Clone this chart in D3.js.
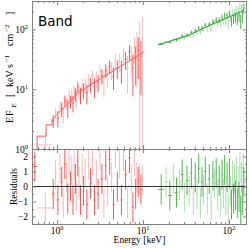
<!DOCTYPE html>
<html>
<head>
<meta charset="utf-8">
<script src="https://cdn.jsdelivr.net/npm/d3@7"></script>
<style>
  body { margin: 0; background: #fff; }
  svg { display: block; }
</style>
</head>
<body>
<div id="chart"></div>
<script>
// ---- data ----
// red spectrum: bin centre, half width, EF_E, error, residual
const redE = [0.55, 0.73, 0.90, 0.96, 1.02, 1.08, 1.13, 1.18, 1.23, 1.28, 1.33, 1.38, 1.43, 1.48, 1.53, 1.58, 1.63, 1.68, 1.74, 1.80, 1.87, 1.95, 2.03, 2.12, 2.22, 2.33, 2.45, 2.58, 2.72, 2.86, 3.00, 3.15, 3.32, 3.50, 3.68, 3.87, 4.08, 4.30, 4.53, 4.77, 5.02, 5.30, 5.60, 5.92, 6.26, 6.60, 6.95, 7.30, 7.62, 7.92, 8.20, 8.48, 8.78, 9.10, 9.45, 9.82];
const redDE = [0.04, 0.14, 0.03, 0.03, 0.03, 0.03, 0.025, 0.025, 0.025, 0.025, 0.025, 0.025, 0.025, 0.025, 0.025, 0.025, 0.025, 0.025, 0.03, 0.03, 0.035, 0.04, 0.04, 0.05, 0.05, 0.06, 0.06, 0.07, 0.07, 0.07, 0.07, 0.08, 0.09, 0.09, 0.09, 0.1, 0.11, 0.11, 0.12, 0.12, 0.13, 0.15, 0.15, 0.17, 0.17, 0.17, 0.18, 0.17, 0.15, 0.15, 0.13, 0.15, 0.15, 0.17, 0.18, 0.2];
const redF = [0.93, 1.17, 2.95, 4.0, 3.3, 5.1, 4.7, 3.9, 6.4, 5.9, 5.0, 7.8, 6.3, 7.9, 5.9, 9.0, 8.3, 7.2, 10.9, 9.4, 8.1, 11.7, 9.6, 12.0, 8.7, 14.2, 12.1, 16.3, 11.1, 15.2, 13.1, 20.0, 16.8, 13.4, 20.9, 16.9, 24.3, 21.6, 16.4, 30.1, 22.5, 29.5, 21.1, 37.8, 31.6, 22.5, 42.4, 34.8, 23.0, 51.0, 31.6, 50.7, 44.8, 61.8, 35.9, 70.2];
const redErr = [0.06, 0.75, 0.7, 0.8, 1.0, 1.0, 1.3, 1.2, 1.4, 1.4, 1.7, 1.8, 1.5, 2.0, 1.8, 2.2, 2.1, 2.4, 2.2, 2.8, 2.5, 3.1, 2.8, 3.5, 3.1, 3.9, 3.4, 4.2, 3.9, 4.8, 4.2, 5.3, 4.8, 5.9, 5.3, 6.4, 6.0, 7.3, 6.7, 8.4, 7.7, 9.8, 8.7, 11.9, 10.5, 14, 12.6, 18, 15.4, 24, 20, 40, 30, 75, 28, 95];
const redRes = [1.33, -1.43, -0.5, 0.8, -0.9, 1.2, 0.3, -1.1, 1.5, 0.6, -0.8, 1.8, 0.0, 1.1, -0.9, 1.4, 0.5, -0.6, 1.7, 0.3, -0.9, 1.2, -0.3, 0.9, -1.2, 1.5, 0.2, 1.8, -0.9, 0.8, -0.5, 2.1, 0.5, -1.1, 1.4, -0.3, 1.8, 0.6, -1.2, 2.2, 0.0, 1.5, -0.9, 2.0, 0.8, -1.1, 1.9, 0.5, -1.4, 1.7, -0.5, 0.6, 0.3, 0.5, -0.2, 0.4];

// green spectrum
const greenE = [16.25, 18.5, 20.5, 22.5, 24.5, 26.5, 28.5, 30.5, 32.5, 34.5, 36.5, 38.5, 40.5, 42.5, 44.5, 46.5, 48.5, 50.5, 53, 56, 59, 62, 65, 68, 71, 74, 77, 80, 83, 86, 89, 92, 95, 98, 101, 104, 107, 110, 113, 116, 119, 122, 125, 128, 131, 134, 137, 140, 143, 146, 149];
const greenDE = [1.25, 1, 1, 1, 1, 1, 1, 1, 1, 1, 1, 1, 1, 1, 1, 1, 1, 1, 1.5, 1.5, 1.5, 1.5, 1.5, 1.5, 1.5, 1.5, 1.5, 1.5, 1.5, 1.5, 1.5, 1.5, 1.5, 1.5, 1.5, 1.5, 1.5, 1.5, 1.5, 1.5, 1.5, 1.5, 1.5, 1.5, 1.5, 1.5, 1.5, 1.5, 1.5, 1.5, 1.5];
const greenF = [57.2, 61.7, 61.6, 68.2, 67.3, 71.9, 77.7, 72.7, 80.6, 79.5, 90.0, 81.5, 94.7, 89.8, 106.2, 90.0, 105.1, 103.1, 118.9, 103.7, 122.5, 104.1, 134.1, 131.1, 145.2, 125.2, 144.6, 123.9, 159.5, 139.9, 173.1, 134.8, 170.2, 125.2, 185.0, 158.1, 137.3, 190.6, 151.9, 191.6, 161.9, 214.3, 150.7, 203.4, 168.5, 243.0, 138.5, 224.8, 169.0, 257.9, 223.6];
const greenErr = [2.9, 3.0, 3.5, 3.7, 4.1, 4.3, 4.8, 5.0, 5.5, 5.7, 6.3, 6.6, 7.2, 7.5, 8.2, 8.4, 9.2, 9.5, 10.3, 11.3, 11.7, 12.7, 13.7, 14.1, 15.1, 16.2, 16.6, 17.7, 18.8, 19.2, 20.3, 21.6, 22.0, 23.2, 24.5, 24.8, 26.1, 27.4, 27.9, 29.2, 30.7, 31.1, 32.7, 34.1, 34.7, 36.2, 37.8, 38.3, 40.0, 41.6, 42.2];
const greenRes = [-0.2, 0.3, -0.6, 0.5, -0.4, 0.1, 0.8, -0.7, 0.4, -0.3, 0.9, -0.9, 0.6, -0.5, 1.2, -1.1, 0.3, -0.2, 1.0, -0.8, 0.5, -1.3, 0.7, 0.2, 0.9, -0.6, 0.4, -1.0, 0.8, -0.4, 1.1, -0.9, 0.6, -1.5, 0.9, -0.3, -1.2, 0.7, -0.8, 0.5, -0.6, 1.0, -1.1, 0.4, -0.7, 1.3, -1.6, 0.6, -0.9, 1.2, 0.3];

// Band model curves
const redModelStepE = [0.51, 0.585, 0.745, 0.87];
const redModelStepF = [0.85, 1.64, 2.54];
const redModelE = [0.87, 1, 1.3, 1.85, 3.16, 5, 7, 10.2];
const redModelF = [3.1, 3.8, 5.5, 9.3, 14.9, 22.4, 30, 42.5];
const greenModelE = [15, 33.4, 68.7, 117, 150];
const greenModelF = [55.3, 79.4, 129, 178, 210];

// ticks
const xMajor = [1, 10, 100];
const xMinor = [0.6, 0.7, 0.8, 0.9, 2, 3, 4, 5, 6, 7, 8, 9, 20, 30, 40, 50, 60, 70, 80, 90];
const yMajor = [1, 10, 100];
const yMinor = [2, 3, 4, 5, 6, 7, 8, 9, 20, 30, 40, 50, 60, 70, 80, 90, 200, 300];
const resMajor = [-2, -1, 0, 1, 2];
const resMinor = [-2.5, -1.5, -0.5, 0.5, 1.5, 2.5];

// ---- layout ----
const W = 249, H = 248;
const L = 32, R = 247, T = 1, MID = 149, B = 224;
const frameColor = '#808080';
const redShade = ['#ff5252', '#ffb8b8'];
const greenShade = ['#4cb84c', '#addead'];
const serif = '"Liberation Serif", "DejaVu Serif", serif';

const x = d3.scaleLog().domain([0.51, 162]).range([L, R]);
const yTop = d3.scaleLog().domain([1, 300]).range([MID, T]);
const yRes = d3.scaleLinear().domain([-2.5, 2.5]).range([B, MID]);

const svg = d3.select('#chart').append('svg').attr('width', W).attr('height', H);
const defs = svg.append('defs');
defs.append('clipPath').attr('id', 'clipTop').append('rect')
  .attr('x', L).attr('y', T).attr('width', R - L).attr('height', MID - T);
defs.append('clipPath').attr('id', 'clipRes').append('rect')
  .attr('x', L).attr('y', MID).attr('width', R - L).attr('height', B - MID);

const gTop = svg.append('g').attr('clip-path', 'url(#clipTop)');
const gRes = svg.append('g').attr('clip-path', 'url(#clipRes)');

// error-bar crosses; light shade first so the dark one sits on top
function drawCrosses(g, E, dE, v, err, yS, shades, isLog) {
  const idx = d3.range(E.length).sort((a, b) => (b % 2) - (a % 2));
  const pts = g.append('g').selectAll('g').data(idx).join('g')
    .attr('stroke', i => shades[i % 2]).attr('stroke-width', 1);
  pts.append('line')
    .attr('x1', i => x(E[i] - dE[i])).attr('x2', i => x(E[i] + dE[i]))
    .attr('y1', i => yS(v[i])).attr('y2', i => yS(v[i]));
  pts.append('line')
    .attr('x1', i => x(E[i])).attr('x2', i => x(E[i]))
    .attr('y1', i => {
      const lo = v[i] - err[i];
      return isLog && lo <= 0 ? H + 20 : yS(lo);
    })
    .attr('y2', i => yS(v[i] + err[i]));
}

const ones = a => a.map(() => 1);

drawCrosses(gTop, redE, redDE, redF, redErr, yTop, redShade, true);
drawCrosses(gTop, greenE, greenDE, greenF, greenErr, yTop, greenShade, true);

// model lines
const line = d3.line().x(d => x(d[0])).y(d => yTop(d[1]));
const redModelPts = [];
redModelStepF.forEach((f, i) => {
  redModelPts.push([redModelStepE[i], f], [redModelStepE[i + 1], f]);
});
redModelE.forEach((e, i) => redModelPts.push([e, redModelF[i]]));
gTop.append('path').datum(redModelPts).attr('d', line)
  .attr('fill', 'none').attr('stroke', '#ff5a5a').attr('stroke-width', 1);
gTop.append('path').datum(greenModelE.map((e, i) => [e, greenModelF[i]])).attr('d', line)
  .attr('fill', 'none').attr('stroke', '#2a9a2a').attr('stroke-width', 1);

// residuals
drawCrosses(gRes, redE, redDE, redRes, ones(redRes), yRes, redShade, false);
drawCrosses(gRes, greenE, greenDE, greenRes, ones(greenRes), yRes, greenShade, false);
gRes.append('line').attr('x1', L).attr('x2', R).attr('y1', yRes(0)).attr('y2', yRes(0))
  .attr('stroke', '#333').attr('stroke-width', 1);

// ---- axes (ticks inside, on all sides) ----
function tickAxis(axis, tx, ty, values, size) {
  svg.append('g').attr('transform', `translate(${tx},${ty})`)
    .call(axis.tickValues(values).tickSize(-size).tickFormat(''))
    .call(g => {
      g.select('.domain').remove();
      g.selectAll('line').attr('stroke', frameColor);
    });
}
[[xMajor, 4], [xMinor, 2]].forEach(([vals, s]) => {
  tickAxis(d3.axisTop(x), 0, T, vals, s);
  tickAxis(d3.axisBottom(x), 0, MID, vals, s);
  tickAxis(d3.axisTop(x), 0, MID, vals, s);
  tickAxis(d3.axisBottom(x), 0, B, vals, s);
});
[[yMajor, 4], [yMinor, 2]].forEach(([vals, s]) => {
  tickAxis(d3.axisLeft(yTop), L, 0, vals, s);
  tickAxis(d3.axisRight(yTop), R, 0, vals, s);
});
[[resMajor, 4], [resMinor, 2]].forEach(([vals, s]) => {
  tickAxis(d3.axisLeft(yRes), L, 0, vals, s);
  tickAxis(d3.axisRight(yRes), R, 0, vals, s);
});

// frames
[[T, MID], [MID, B]].forEach(([a, b]) => {
  svg.append('rect').attr('x', L + 0.5).attr('y', a + 0.5)
    .attr('width', R - L - 1).attr('height', b - a)
    .attr('fill', 'none').attr('stroke', frameColor).attr('stroke-width', 1);
});

// ---- tick labels ----
function powText(sel, exp) {
  sel.text('10');
  sel.append('tspan').attr('dy', -4).attr('font-size', '6.5px').text(exp);
}
xMajor.forEach(v => {
  svg.append('text').attr('x', x(v)).attr('y', 233.5)
    .attr('text-anchor', 'middle').attr('font-family', serif).attr('font-size', '9.5px')
    .call(powText, String(Math.round(Math.log10(v))));
});
yMajor.forEach(v => {
  svg.append('text').attr('x', 28).attr('y', yTop(v) + 3.5)
    .attr('text-anchor', 'end').attr('font-family', serif).attr('font-size', '9.5px')
    .call(powText, String(Math.round(Math.log10(v))));
});
resMajor.forEach(v => {
  svg.append('text').attr('x', 28).attr('y', yRes(v) + 3.3)
    .attr('text-anchor', 'end').attr('font-family', serif).attr('font-size', '9.5px')
    .text(v < 0 ? '\u2212' + Math.abs(v) : String(v));
});

// ---- axis titles ----
svg.append('text').attr('x', (L + R) / 2).attr('y', 243)
  .attr('text-anchor', 'middle').attr('font-family', serif).attr('font-size', '9.5px')
  .text('Energy [keV]');

svg.append('text').attr('transform', `translate(16.5,${(MID + B) / 2}) rotate(-90)`)
  .attr('text-anchor', 'middle').attr('font-family', serif).attr('font-size', '9.5px')
  .text('Residuals');

const yLabelParts = [
  { t: 'E', at: 0, fs: 10, dy: 0 },
  { t: 'F', at: 7, fs: 10, dy: 0 },
  { t: 'E', at: 15.5, fs: 7, dy: 2.5 },
  { t: '[', at: 26, fs: 10, dy: 0 },
  { t: 'keV', at: 36, fs: 10, dy: 0 },
  { t: 's', at: 55, fs: 10, dy: 0 },
  { t: '\u22121', at: 60.5, fs: 7, dy: -4 },
  { t: 'cm', at: 77, fs: 10, dy: 0 },
  { t: '\u22122', at: 91, fs: 7, dy: -4 },
  { t: ']', at: 108, fs: 10, dy: 0 },
];
const yLab = svg.append('g').attr('transform', 'translate(13,123) rotate(-90)');
yLabelParts.forEach(p => {
  yLab.append('text').attr('x', p.at).attr('y', p.dy)
    .attr('font-family', serif).attr('font-size', p.fs + 'px').text(p.t);
});

// panel title
svg.append('text').attr('x', 38).attr('y', 26)
  .attr('font-family', '"DejaVu Sans", sans-serif').attr('font-size', '13.5px')
  .text('Band');
</script>
</body>
</html>
